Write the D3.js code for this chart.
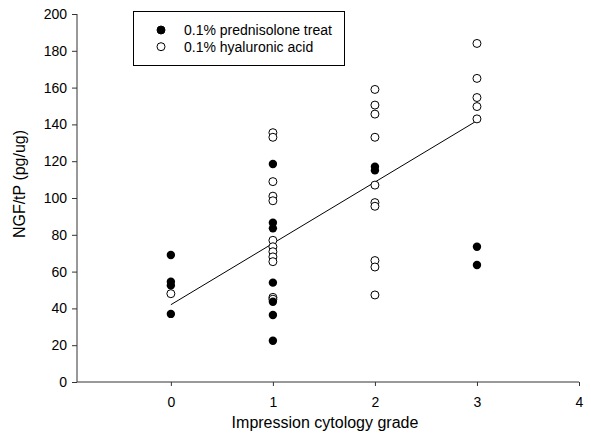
<!DOCTYPE html>
<html><head><meta charset="utf-8">
<script src="https://cdn.jsdelivr.net/npm/d3@7"></script>
<style>body{margin:0;background:#fff;}svg{display:block;font-family:"Liberation Sans",Arial,sans-serif;}</style>
</head><body>
<svg id="c" width="591" height="446"></svg>
<script>
const xTicks = [0, 1, 2, 3, 4];
const yTicks = [0, 20, 40, 60, 80, 100, 120, 140, 160, 180, 200];
const predX = [0, 0, 0, 0, 1, 1, 1, 1, 1, 1, 1, 2, 2, 3, 3];
const predY = [69, 54.5, 52.5, 37, 118.5, 86.6, 83.5, 54, 43.6, 36.4, 22.4, 117, 115, 73.5, 63.6];
const hyaX = [0, 1, 1, 1, 1, 1, 1, 1, 1, 1, 1, 1, 1, 2, 2, 2, 2, 2, 2, 2, 2, 2, 2, 3, 3, 3, 3, 3];
const hyaY = [48, 135.5, 133, 108.9, 101, 98.5, 77, 73.5, 70.8, 68, 65.4, 46, 45, 159, 150.5, 145.6, 133, 107, 97.5, 95.5, 66, 62.5, 47.3, 184, 165, 154.6, 149.7, 143];
const lineX = [0, 3];
const lineY = [42, 142];
const legendLabels = ["0.1% prednisolone treat", "0.1% hyaluronic acid"];

const svg = d3.select("#c");
const x = d3.scaleLinear().domain([-0.92, 4]).range([77, 579]);
const y = d3.scaleLinear().domain([0, 200]).range([382, 14]);
const axisColor = "#333";

const gx = svg.append("g").attr("transform", "translate(0,382)")
  .call(d3.axisBottom(x).tickValues(xTicks).tickSize(4).tickPadding(11).tickFormat(d3.format("d")));
const gy = svg.append("g").attr("transform", "translate(77,0)")
  .call(d3.axisLeft(y).tickValues(yTicks).tickSize(5).tickPadding(5));
[gx, gy].forEach(g => {
  g.select(".domain").attr("stroke", axisColor);
  g.selectAll(".tick line").attr("stroke", axisColor);
  g.selectAll(".tick text").attr("fill", "#000").style("font-size", "14px").style("font-family", "Liberation Sans, Arial, sans-serif");
});
gx.select(".domain").attr("d", `M${x.range()[0]},0H${x.range()[1]}`);
gy.select(".domain").attr("d", `M0,${y.range()[0]}V${y.range()[1]}`);

svg.append("text").attr("x", 325).attr("y", 428).attr("text-anchor", "middle")
  .style("font-size", "16px").text("Impression cytology grade");
svg.append("text").attr("transform", "translate(25,184) rotate(-90)").attr("text-anchor", "middle")
  .style("font-size", "16px").text("NGF/tP (pg/ug)");

// regression line
svg.append("line").attr("x1", x(lineX[0])).attr("y1", y(lineY[0]))
  .attr("x2", x(lineX[1])).attr("y2", y(lineY[1])).attr("stroke", "#000").attr("stroke-width", 1);

svg.append("g").selectAll("circle").data(hyaY).join("circle")
  .attr("cx", (d, i) => x(hyaX[i])).attr("cy", d => y(d)).attr("r", 4)
  .attr("fill", "#fff").attr("stroke", "#000").attr("stroke-width", 1);
svg.append("g").selectAll("circle").data(predY).join("circle")
  .attr("cx", (d, i) => x(predX[i])).attr("cy", d => y(d)).attr("r", 4.2)
  .attr("fill", "#000");

// legend
const lg = svg.append("g");
lg.append("rect").attr("x", 133.5).attr("y", 11.5).attr("width", 211).attr("height", 54)
  .attr("fill", "#fff").attr("stroke", "#000").attr("stroke-width", 1);
legendLabels.forEach((t, i) => {
  const cy = 30 + i * 16.7;
  lg.append("circle").attr("cx", 161).attr("cy", cy).attr("r", 4)
    .attr("fill", i === 0 ? "#000" : "#fff").attr("stroke", "#000").attr("stroke-width", 1);
  lg.append("text").attr("x", 184).attr("y", cy + 5).style("font-size", "14px").text(t);
});
</script>
</body></html>
